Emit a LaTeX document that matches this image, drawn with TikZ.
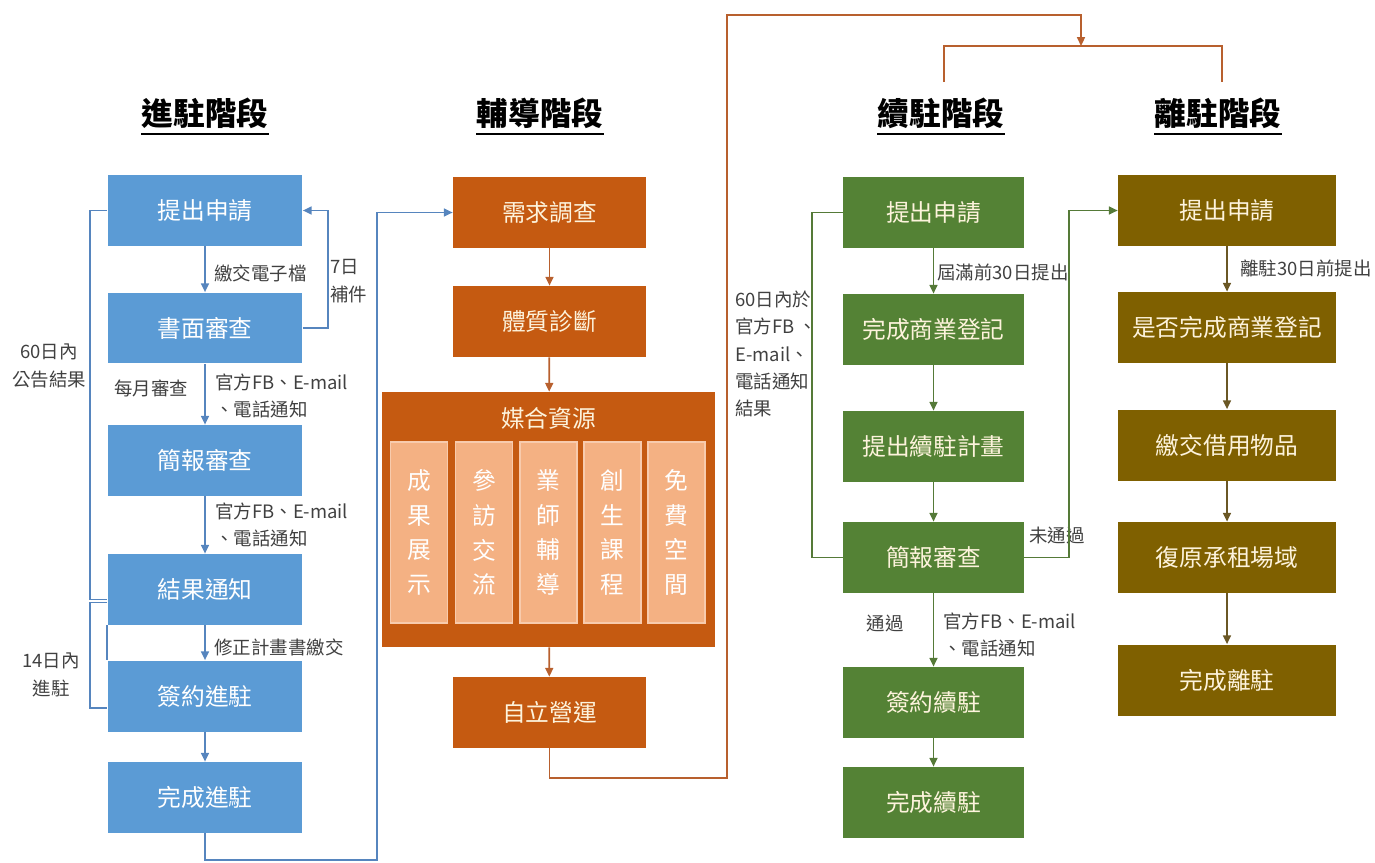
\documentclass[tikz,border=0pt]{standalone}
\usepackage{fontspec}
\setmainfont{Noto Sans CJK TC}
\usetikzlibrary{arrows.meta}

\definecolor{inblue}{HTML}{5B9BD5}
\definecolor{inblueln}{HTML}{5685BE}
\definecolor{coorange}{HTML}{C55A11}
\definecolor{coorangeln}{HTML}{B8602E}
\definecolor{colight}{HTML}{F4B183}
\definecolor{colightln}{HTML}{F8CBAD}
\definecolor{stgreen}{HTML}{548235}
\definecolor{stgreenln}{HTML}{557A38}
\definecolor{lvbrown}{HTML}{7F6000}
\definecolor{lvbrownln}{HTML}{6A5725}
\definecolor{notegray}{HTML}{404040}
\definecolor{boxtext}{HTML}{FDF3DC}

\begin{document}
\begin{tikzpicture}[x=0.02cm,y=-0.02cm,
    >={Triangle[length=5pt,width=4.5pt]},
    box/.style={rectangle,inner sep=0pt,minimum height=1.42cm,
      font=\fontsize{13.5}{16}\selectfont},
    inbox/.style={box,fill=inblue,text=white,minimum width=3.9cm},
    cobox/.style={box,fill=coorange,text=boxtext,minimum width=3.86cm},
    stbox/.style={box,fill=stgreen,text=boxtext,minimum width=3.62cm},
    lvbox/.style={box,fill=lvbrown,text=boxtext,minimum width=4.36cm},
    resbox/.style={rectangle,inner sep=0pt,fill=colight,draw=colightln,line width=1pt,
      minimum width=1.14cm,minimum height=3.62cm,text=white,align=center,
      font=\fontsize{13.5}{19.8}\selectfont},
    stage/.style={inner sep=0pt,font=\bfseries\fontsize{18}{20}\selectfont},
    note/.style={inner sep=0pt,text=notegray,align=left,
      font=\fontsize{10.5}{15.5}\selectfont},
    inln/.style={draw=inblueln,line width=1pt},
    coln/.style={draw=coorangeln,line width=1pt},
    stln/.style={draw=stgreenln,line width=1pt},
    lvln/.style={draw=lvbrownln,line width=1pt}]

  \useasboundingbox (0,0) rectangle (1375,862);

  % stage titles
  \node[stage] (inTitle) at (205,113) {進駐階段};
  \node[stage] (coTitle) at (540,113) {輔導階段};
  \node[stage] (stTitle) at (941,113) {續駐階段};
  \node[stage] (lvTitle) at (1218,113) {離駐階段};
  \foreach \t in {inTitle,coTitle,stTitle,lvTitle}
    \draw[line width=1.5pt] ([yshift=-3pt]\t.south west) -- ([yshift=-3pt]\t.south east);

  % entering stage
  \node[inbox] (inApply) at (205,210.5) {提出申請};
  \node[inbox] (inPaper) at (205,328) {書面審查};
  \node[inbox] (inBrief) at (205,460.5) {簡報審查};
  \node[inbox] (inNotice) at (205,589.5) {結果通知};
  \node[inbox] (inSign) at (205,696) {簽約進駐};
  \node[inbox] (inDone) at (205,797.5) {完成進駐};

  \draw[inln,->] (inApply) -- (inPaper);
  \draw[inln,->] (inPaper) -- (inBrief);
  \draw[inln,->] (inBrief) -- (inNotice);
  \draw[inln,->] (inNotice) -- (inSign);
  \draw[inln,->] (inSign) -- (inDone);
  \draw[inln,->] (inPaper.east) -- ++(25,0) |- (inApply.east);
  \draw[inln] (inApply.west) -- ++(-17,0) |- ([yshift=-0.2cm]inNotice.west);
  \draw[inln] ([yshift=-0.26cm]inNotice.west) -- ++(-17,0) |- ([yshift=-0.24cm]inSign.west);
  \draw[inln] (inNotice.south west) -- (inSign.north west);

  \node[note,anchor=west] at (214,273) {繳交電子檔};
  \node[note,anchor=west] at (330,281) {7日\\補件};
  \node[note,align=center] at (49,366) {60日內\\公告結果};
  \node[note] at (151,388) {每月審查};
  \node[note,anchor=west] at (215,396) {官方FB、E-mail\\、電話通知};
  \node[note,anchor=west] at (215,525) {官方FB、E-mail\\、電話通知};
  \node[note,anchor=west] at (214,647) {修正計畫書繳交};
  \node[note,align=center] at (51,675) {14日內\\進駐};

  % coaching stage
  \node[cobox] (coSurvey) at (549.5,212.5) {需求調查};
  \node[cobox] (coCheck) at (549.5,321.5) {體質診斷};
  \node[box,fill=coorange,minimum width=6.66cm,minimum height=5.1cm] (coMatch) at (548.5,519.5) {};
  \node[box,text=boxtext] at (548.5,418) {媒合資源};
  \node[resbox] (coShow) at (419,532.5) {成\\果\\展\\示};
  \node[resbox] (coVisit) at (484,532.5) {參\\訪\\交\\流};
  \node[resbox] (coMentor) at (548.5,532.5) {業\\師\\輔\\導};
  \node[resbox] (coCourse) at (612.5,532.5) {創\\生\\課\\程};
  \node[resbox] (coSpace) at (676.5,532.5) {免\\費\\空\\間};
  \node[cobox] (coRun) at (549.5,712.5) {自立營運};

  \draw[coln,->] (coSurvey) -- (coCheck);
  \draw[coln,->] (coCheck) -- (coMatch);
  \draw[coln,->] (coMatch) -- (coRun);

  % entering -> coaching
  \coordinate (inTurn) at (377,860);
  \draw[inln,->] (inDone.south) |- (inTurn) |- (coSurvey.west);

  % coaching -> staying / leaving
  \coordinate (coTurn) at (727,778);
  \coordinate (coTop) at (727,15);
  \coordinate (coSplit) at (1081,46);
  \coordinate (stLeg) at (944,82);
  \coordinate (lvLeg) at (1222,82);
  \draw[coln,->] (coRun.south) |- (coTurn) -- (coTop) -| (coSplit);
  \draw[coln] (stLeg) |- (coSplit) -| (lvLeg);

  % staying stage
  \node[stbox] (stApply) at (933.5,212.5) {提出申請};
  \node[stbox] (stReg) at (933.5,329.5) {完成商業登記};
  \node[stbox] (stPlan) at (933.5,446.5) {提出續駐計畫};
  \node[stbox] (stBrief) at (933.5,557.5) {簡報審查};
  \node[stbox] (stSign) at (933.5,702.5) {簽約續駐};
  \node[stbox] (stDone) at (933.5,802.5) {完成續駐};

  \draw[stln,->] (stApply) -- (stReg);
  \draw[stln,->] (stReg) -- (stPlan);
  \draw[stln,->] (stPlan) -- (stBrief);
  \draw[stln,->] (stBrief) -- (stSign);
  \draw[stln,->] (stSign) -- (stDone);
  \draw[stln] (stBrief.west) -- ++(-31,0) |- (stApply.west);

  \node[note,anchor=west] at (937,272) {屆滿前30日提出};
  \node[note,anchor=west] at (735,354) {60日內於\\官方FB 、\\E-mail、\\電話通知\\結果};
  \node[note,anchor=west] at (1029,535) {未通過};
  \node[note] at (885,623) {通過};
  \node[note,anchor=west] at (943,635) {官方FB、E-mail\\、電話通知};

  % leaving stage
  \node[lvbox] (lvApply) at (1227,210.5) {提出申請};
  \node[lvbox] (lvReg) at (1227,327.5) {是否完成商業登記};
  \node[lvbox] (lvReturn) at (1227,445) {繳交借用物品};
  \node[lvbox] (lvRestore) at (1227,557.5) {復原承租場域};
  \node[lvbox] (lvDone) at (1227,680) {完成離駐};

  \draw[lvln,->] (lvApply) -- (lvReg);
  \draw[lvln,->] (lvReg) -- (lvReturn);
  \draw[lvln,->] (lvReturn) -- (lvRestore);
  \draw[lvln,->] (lvRestore) -- (lvDone);
  \draw[stln,->] (stBrief.east) -- ++(45,0) |- (lvApply.west);

  \node[note,anchor=west] at (1240,268) {離駐30日前提出};
\end{tikzpicture}
\end{document}
